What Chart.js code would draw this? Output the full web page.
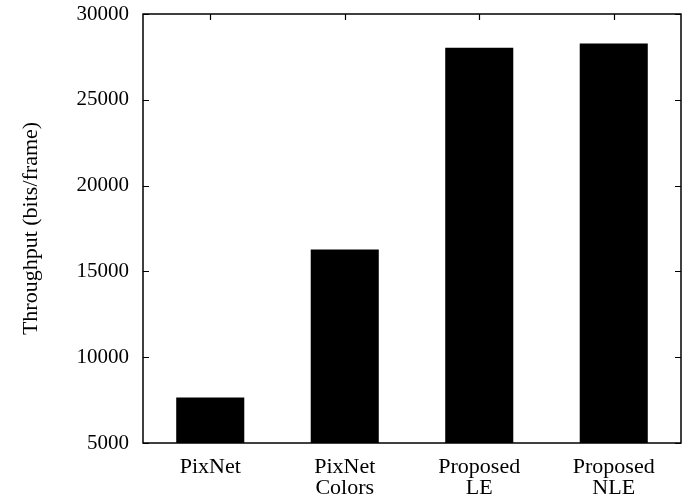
<!DOCTYPE html>
<html>
<head>
<meta charset="utf-8">
<script src="https://cdn.jsdelivr.net/npm/chart.js@4.4.0/dist/chart.umd.min.js"></script>
<style>
  html, body { margin: 0; padding: 0; background: #fff; }
  #wrap { width: 697px; height: 504px; }
</style>
</head>
<body>
<div id="wrap"><canvas id="chart" width="697" height="504"></canvas></div>
<script>
// data
const categories = [["PixNet"], ["PixNet", "Colors"], ["Proposed", "LE"], ["Proposed", "NLE"]];
const throughput = [7650, 16280, 28030, 28280];
const yMin = 5000;
const yMax = 30000;
const yStep = 5000;

const FONT = "'Liberation Serif', 'DejaVu Serif', serif";

// gnuplot style frame: box around plot, ticks pointing inward on all sides
const framePlugin = {
  id: 'frame',
  afterDraw(chart) {
    const { ctx, chartArea: a, scales } = chart;
    const len = 6;
    ctx.save();
    ctx.strokeStyle = '#000';
    ctx.lineWidth = 1.2;
    ctx.beginPath();
    scales.y.ticks.forEach(t => {
      const y = Math.round(scales.y.getPixelForValue(t.value)) + 0.5;
      ctx.moveTo(a.left, y); ctx.lineTo(a.left + len, y);
      ctx.moveTo(a.right, y); ctx.lineTo(a.right - len, y);
    });
    scales.x.ticks.forEach((t, i) => {
      const x = Math.round(scales.x.getPixelForTick(i)) + 0.5;
      ctx.moveTo(x, a.top); ctx.lineTo(x, a.top + len);
      ctx.moveTo(x, a.bottom); ctx.lineTo(x, a.bottom - len);
    });
    ctx.stroke();
    ctx.lineWidth = 1.5;
    ctx.strokeRect(a.left, a.top, a.right - a.left, a.bottom - a.top);
    ctx.restore();
  }
};

const ctx = document.getElementById("chart").getContext("2d");
const chart = new Chart(ctx, {
  type: 'bar',
  data: {
    labels: categories,
    datasets: [{
      label: 'Throughput',
      data: throughput,
      backgroundColor: '#000',
      borderWidth: 0,
      barPercentage: 0.506,
      categoryPercentage: 1.0
    }]
  },
  options: {
    responsive: false,
    animation: false,
    layout: { padding: { left: 0, right: 16, top: 14, bottom: 0 } },
    plugins: { legend: { display: false }, tooltip: { enabled: false } },
    scales: {
      x: {
        offset: true,
        grid: { display: false, drawTicks: false },
        border: { display: false },
        ticks: {
          color: '#000',
          padding: 13,
          maxRotation: 0,
          autoSkip: false,
          font: { family: FONT, size: 22, lineHeight: 0.98 }
        },
        afterFit(s) { s.height = 61; s.paddingLeft = 0; s.paddingRight = 0; }
      },
      y: {
        min: yMin,
        max: yMax,
        grid: { display: false, drawTicks: false },
        border: { display: false },
        ticks: {
          stepSize: yStep,
          color: '#000',
          padding: 14,
          font: { family: FONT, size: 21 },
          callback: v => String(v)
        },
        title: {
          display: true,
          text: 'Throughput (bits/frame)',
          color: '#000',
          padding: { top: 18, bottom: 0 },
          font: { family: FONT, size: 22 }
        },
        afterFit(s) { s.width = 143; s.paddingTop = 0; s.paddingBottom = 0; }
      }
    }
  },
  plugins: [framePlugin]
});
</script>
</body>
</html>
